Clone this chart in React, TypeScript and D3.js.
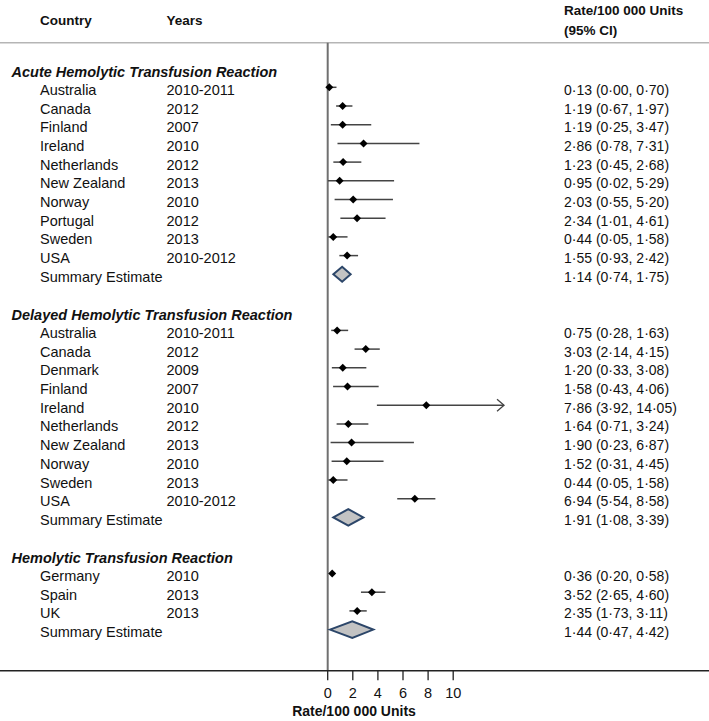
import React from "react";
import * as d3 from "d3";

const groupTitles = [
  "Acute Hemolytic Transfusion Reaction",
  "Delayed Hemolytic Transfusion Reaction",
  "Hemolytic Transfusion Reaction",
];

const acuteCountries = ["Australia", "Canada", "Finland", "Ireland", "Netherlands", "New Zealand", "Norway", "Portugal", "Sweden", "USA"];
const acuteYears = ["2010-2011", "2012", "2007", "2010", "2012", "2013", "2010", "2012", "2013", "2010-2012"];
const acuteRate = [0.13, 1.19, 1.19, 2.86, 1.23, 0.95, 2.03, 2.34, 0.44, 1.55];
const acuteLow = [0.0, 0.67, 0.25, 0.78, 0.45, 0.02, 0.55, 1.01, 0.05, 0.93];
const acuteHigh = [0.7, 1.97, 3.47, 7.31, 2.68, 5.29, 5.2, 4.61, 1.58, 2.42];

const delayedCountries = ["Australia", "Canada", "Denmark", "Finland", "Ireland", "Netherlands", "New Zealand", "Norway", "Sweden", "USA"];
const delayedYears = ["2010-2011", "2012", "2009", "2007", "2010", "2012", "2013", "2010", "2013", "2010-2012"];
const delayedRate = [0.75, 3.03, 1.2, 1.58, 7.86, 1.64, 1.9, 1.52, 0.44, 6.94];
const delayedLow = [0.28, 2.14, 0.33, 0.43, 3.92, 0.71, 0.23, 0.31, 0.05, 5.54];
const delayedHigh = [1.63, 4.15, 3.08, 4.06, 14.05, 3.24, 6.87, 4.45, 1.58, 8.58];

const hemoCountries = ["Germany", "Spain", "UK"];
const hemoYears = ["2010", "2013", "2013"];
const hemoRate = [0.36, 3.52, 2.35];
const hemoLow = [0.2, 2.65, 1.73];
const hemoHigh = [0.58, 4.6, 3.11];

// reported summary estimates (text)
const summaryRate = [1.14, 1.91, 1.44];
const summaryLow = [0.74, 1.08, 0.47];
const summaryHigh = [1.75, 3.39, 4.42];
// summary diamonds as drawn in the picture
const diamondLow = [0.45, 0.45, 0.18];
const diamondMid = [1.15, 1.64, 1.96];
const diamondHigh = [1.83, 2.84, 3.63];

const xTicks = [0, 2, 4, 6, 8, 10];

const W = 709;
const H = 721;
const FONT = "'Liberation Sans', Arial, Helvetica, sans-serif";

const fmt = (v: number) => v.toFixed(2).replace(".", "\u00B7");
const ciText = (r: number, l: number, h: number) => `${fmt(r)} (${fmt(l)}, ${fmt(h)})`;

export default function App() {
  const x = d3.scaleLinear().domain([0, 10]).range([327.7, 453.2]);
  const row = d3.scaleLinear().domain([0, 30]).range([68.6, 629.6]);

  const groups = [
    { countries: acuteCountries, years: acuteYears, rate: acuteRate, low: acuteLow, high: acuteHigh },
    { countries: delayedCountries, years: delayedYears, rate: delayedRate, low: delayedLow, high: delayedHigh },
    { countries: hemoCountries, years: hemoYears, rate: hemoRate, low: hemoLow, high: hemoHigh },
  ];

  const elements: React.ReactNode[] = [];
  let idx = 0;
  const axisMax = 10;
  groups.forEach((g, gi) => {
    const ty = row(idx);
    elements.push(
      <text key={`t${gi}`} x={11.5} y={ty + 8.3} fontSize={14.5} fontWeight="bold" fontStyle="italic" fill="#111">
        {groupTitles[gi]}
      </text>
    );
    idx++;
    g.countries.forEach((c, i) => {
      const y = row(idx);
      const x0 = x(g.low[i]);
      const x1 = x(g.high[i]);
      const xm = x(g.rate[i]);
      elements.push(
        <g key={`r${gi}-${i}`}>
          <text x={40} y={y + 7.5} fontSize={14.5} fill="#111">{c}</text>
          <text x={166.5} y={y + 7.5} fontSize={14.5} fill="#111">{g.years[i]}</text>
          <text x={564} y={y + 7.5} fontSize={14} fill="#111">{ciText(g.rate[i], g.low[i], g.high[i])}</text>
          <line x1={x0} x2={x1} y1={y} y2={y} stroke="#444" strokeWidth={1.5} />
          {g.high[i] > axisMax && (
            <path d={`M${x1 - 7},${y - 6} L${x1},${y} L${x1 - 7},${y + 6}`} fill="none" stroke="#444" strokeWidth={1.3} />
          )}
          <path d={`M${xm},${y - 4} L${xm + 4},${y} L${xm},${y + 4} L${xm - 4},${y} Z`} fill="#000" />
        </g>
      );
      idx++;
    });
    const sy = row(idx);
    const dl = x(diamondLow[gi]);
    const dm = x(diamondMid[gi]);
    const dh = x(diamondHigh[gi]);
    const hh = gi === 0 ? 7.5 : 8.3;
    elements.push(
      <g key={`s${gi}`}>
        <text x={40} y={sy + 7.5} fontSize={14.5} fill="#111">Summary Estimate</text>
        <text x={564} y={sy + 7.5} fontSize={14} fill="#111">{ciText(summaryRate[gi], summaryLow[gi], summaryHigh[gi])}</text>
        <path d={`M${dl},${sy} L${dm},${sy - hh} L${dh},${sy} L${dm},${sy + hh} Z`} fill="#c3c3c3" stroke="#2c4669" strokeWidth={2} strokeLinejoin="miter" />
      </g>
    );
    idx += 2;
  });

  const axisY = 670.7;

  return (
    <svg width={W} height={H} style={{ position: "absolute", left: 0, top: 0, background: "#fff" }} fontFamily={FONT}>
      <rect width={W} height={H} fill="#fff" />
      {/* header */}
      <text x={40} y={24.5} fontSize={13.5} fontWeight="bold" fill="#111">Country</text>
      <text x={166.5} y={24.5} fontSize={13.5} fontWeight="bold" fill="#111">Years</text>
      <text x={564} y={15} fontSize={13.5} fontWeight="bold" fill="#111">Rate/100 000 Units</text>
      <text x={564} y={35} fontSize={13.5} fontWeight="bold" fill="#111">(95% CI)</text>
      <line x1={0} x2={W} y1={42.8} y2={42.8} stroke="#b5b5b5" strokeWidth={1.5} />
      {/* reference line at 0 */}
      <line x1={x(0)} x2={x(0)} y1={42.8} y2={axisY} stroke="#707070" strokeWidth={2} />
      {elements}
      {/* axis */}
      <line x1={0} x2={W} y1={axisY} y2={axisY} stroke="#222" strokeWidth={1.5} />
      {xTicks.map((t) => (
        <g key={`tick${t}`}>
          <line x1={x(t)} x2={x(t)} y1={axisY} y2={axisY + 9.5} stroke="#222" strokeWidth={1.3} />
          <text x={x(t)} y={697.5} fontSize={14.5} textAnchor="middle" fill="#111">{t}</text>
        </g>
      ))}
      <text x={354} y={715.5} fontSize={14} fontWeight="bold" textAnchor="middle" fill="#111">Rate/100 000 Units</text>
    </svg>
  );
}
